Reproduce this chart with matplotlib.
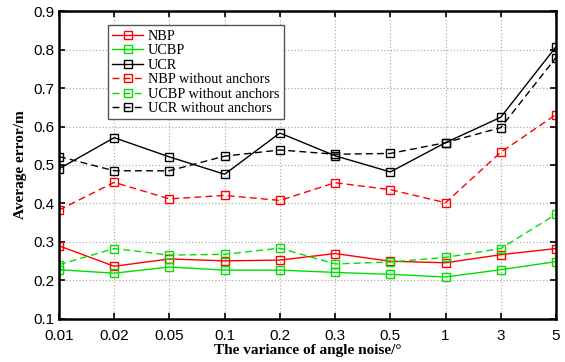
import numpy as np
import matplotlib.pyplot as plt

x_labels = ["0.01", "0.02", "0.05", "0.1", "0.2", "0.3", "0.5", "1", "3", "5"]

nbp = [0.290, 0.237, 0.256, 0.251, 0.253, 0.270, 0.250, 0.246, 0.267, 0.283]
ucbp = [0.228, 0.219, 0.235, 0.227, 0.227, 0.221, 0.216, 0.209, 0.228, 0.249]
ucr = [0.490, 0.571, 0.521, 0.476, 0.583, 0.524, 0.482, 0.558, 0.624, 0.807]
nbp_wo = [0.383, 0.455, 0.412, 0.421, 0.408, 0.454, 0.436, 0.402, 0.533, 0.631]
ucbp_wo = [0.241, 0.283, 0.266, 0.268, 0.284, 0.243, 0.248, 0.260, 0.283, 0.372]
ucr_wo = [0.522, 0.485, 0.485, 0.523, 0.539, 0.528, 0.530, 0.558, 0.597, 0.779]

xs = np.arange(len(x_labels))

fig = plt.figure(figsize=(5.65, 3.62), dpi=100)
ax = fig.add_axes([0.1044, 0.1188, 0.8796, 0.8508])

mk = dict(marker="s", markersize=6, markerfacecolor="none", markeredgewidth=1.0, linewidth=1.0)
ax.plot(xs, nbp, "-", color="#ff0000", label="NBP", **mk)
ax.plot(xs, ucbp, "-", color="#00e000", label="UCBP", **mk)
ax.plot(xs, ucr, "-", color="black", label="UCR", **mk)
ax.plot(xs, nbp_wo, "--", color="#ff0000", label="NBP without anchors", dashes=(5, 3), **mk)
ax.plot(xs, ucbp_wo, "--", color="#00e000", label="UCBP without anchors", dashes=(5, 3), **mk)
ax.plot(xs, ucr_wo, "--", color="black", label="UCR without anchors", dashes=(5, 3), **mk)

ax.set_xlim(0, len(x_labels) - 1)
ax.set_ylim(0.1, 0.9)
ax.set_xticks(xs)
ax.set_xticklabels(x_labels)
ax.set_yticks(np.arange(0.1, 0.91, 0.1))
ax.set_yticklabels(["%.1f" % v for v in np.arange(0.1, 0.91, 0.1)])
ax.tick_params(direction="in", top=True, right=True, labelsize=11, length=4, width=1.2)
ax.tick_params(axis="x", pad=7)
for lab in ax.get_xticklabels() + ax.get_yticklabels():
    lab.set_fontfamily("Liberation Sans")
for s in ax.spines.values():
    s.set_linewidth(1.8)
ax.grid(True, linestyle=":", color="#b0b0b0", linewidth=0.9)

ax.set_xlabel("The variance of angle noise/°", fontfamily="Liberation Serif",
              fontweight="bold", fontsize=11, labelpad=1)
ax.set_ylabel("Average error/m", fontfamily="Liberation Serif",
              fontweight="bold", fontsize=11, labelpad=4)

leg = ax.legend(loc="upper left", bbox_to_anchor=(0.098, 0.953),
                prop={"family": "Liberation Serif", "size": 10.3},
                fancybox=False, edgecolor="#555555", framealpha=1,
                handlelength=2.2, handletextpad=0.3, labelspacing=0.1,
                borderpad=0.3, borderaxespad=0)
leg.get_frame().set_linewidth(1.0)

plt.savefig("out.png", dpi=100)
